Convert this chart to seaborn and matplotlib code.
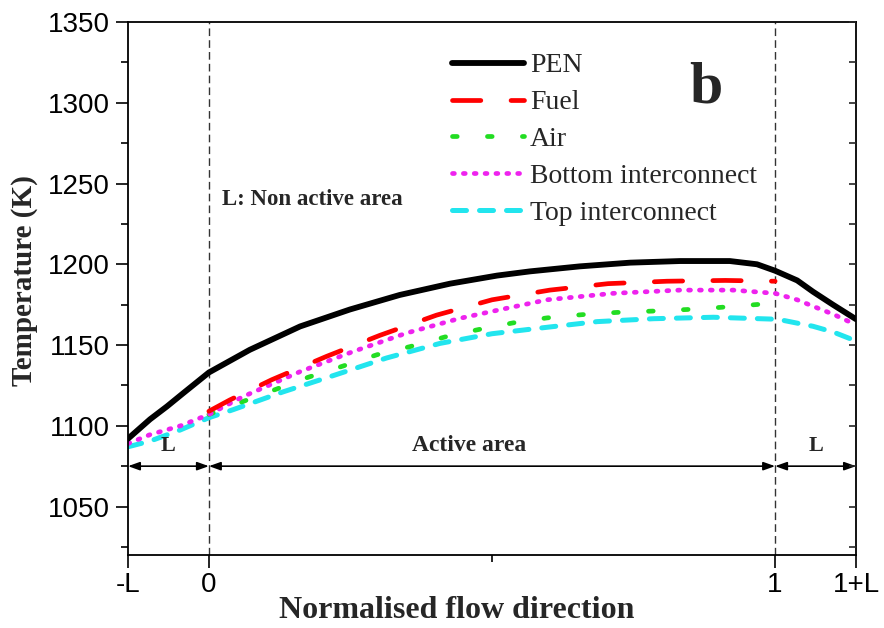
import matplotlib
matplotlib.use("Agg")
import matplotlib.pyplot as plt
from matplotlib.ticker import FixedLocator, MultipleLocator
import seaborn as sns
import pandas as pd

L = 1 / 7.0

pen_x = [-L, -0.104, -0.074, -0.046, 0.0, 0.072, 0.161, 0.249, 0.337, 0.426, 0.509,
         0.567, 0.655, 0.744, 0.832, 0.92, 0.968, 1.0, 1.039, 1.067, 1.102, 1 + L]
pen_y = [1092, 1104, 1112, 1120, 1133, 1147, 1161.5, 1172, 1181, 1188, 1193,
         1195.6, 1198.7, 1201, 1202, 1202, 1200, 1196, 1190, 1183, 1175, 1166]

fuel_x = [0.0, 0.037, 0.111, 0.208, 0.302, 0.402, 0.5, 0.602, 0.705, 0.809, 0.912, 1.0]
fuel_y = [1109, 1116, 1128.5, 1143, 1156, 1168.5, 1178, 1184, 1188, 1189.5, 1190, 1189.5]

air_x = [0.0, 0.06, 0.12, 0.175, 0.237, 0.297, 0.355, 0.417, 0.475, 0.537, 0.597,
         0.659, 0.721, 0.783, 0.845, 0.903, 0.965, 1.0]
air_y = [1107, 1115, 1122.8, 1130, 1137, 1144, 1149, 1155, 1159.5, 1163.7, 1166.8,
         1168.8, 1170.2, 1171, 1172, 1173.3, 1175, 1176]

bot_x = [-L, -0.104, -0.05, 0.0, 0.06, 0.161, 0.255, 0.35, 0.443, 0.509, 0.597,
         0.714, 0.832, 0.926, 1.0, 1.039, 1.067, 1.103, 1 + L]
bot_y = [1089, 1094.5, 1100, 1107, 1118, 1133.5, 1146, 1157.5, 1166.5, 1171.5, 1178,
         1182, 1184, 1184, 1182, 1178, 1174, 1169, 1162.5]

top_x = [-L, -0.104, -0.05, 0.0, 0.043, 0.131, 0.219, 0.314, 0.408, 0.5, 0.585,
         0.686, 0.785, 0.891, 1.0, 1.014, 1.067, 1.103, 1 + L]
top_y = [1087, 1090.5, 1097.5, 1105, 1110, 1121, 1131, 1142, 1151, 1157, 1160.5,
         1164.5, 1166.3, 1167.2, 1166, 1165.3, 1161.6, 1158, 1152.5]

series_names = ["PEN", "Fuel", "Air", "Bottom interconnect", "Top interconnect"]
tick_pos = [-L, 0.0, 1.0, 1 + L]
tick_labels = ["-L", "0", "1", "1+L"]
y_ticks = [1050, 1100, 1150, 1200, 1250, 1300, 1350]

sns.set_style("ticks")
plt.rcParams["font.family"] = ["Liberation Sans", "DejaVu Sans"]

fig = plt.figure(figsize=(8.84, 6.28), dpi=100)
ax = fig.add_axes([128 / 884, 73 / 628, 728 / 884, 533 / 628])

data = {
    "PEN": (pen_x, pen_y),
    "Fuel": (fuel_x, fuel_y),
    "Air": (air_x, air_y),
    "Bottom interconnect": (bot_x, bot_y),
    "Top interconnect": (top_x, top_y),
}
styles = {
    "PEN": dict(color="black", lw=4.2, linestyle="-"),
    "Fuel": dict(color="#ff0000", lw=3.4, linestyle=(0, (6.0, 6.4)), dash_capstyle="round"),
    "Air": dict(color="#22dd22", lw=3.4, linestyle=(0, (1.0, 6.4)), dash_capstyle="round"),
    "Bottom interconnect": dict(color="#ee22ee", lw=3.4, linestyle=(0, (0.4, 1.9)), dash_capstyle="round"),
    "Top interconnect": dict(color="#22e5ee", lw=3.6, linestyle=(0, (2.8, 2.6)), dash_capstyle="round"),
}
draw_order = ["Top interconnect", "Air", "Bottom interconnect", "Fuel", "PEN"]
for name in draw_order:
    xs, ys = data[name]
    df = pd.DataFrame({"x": xs, "y": ys})
    sns.lineplot(data=df, x="x", y="y", ax=ax, sort=False, estimator=None,
                 label=name, **styles[name])

# vertical dashed boundaries
for xv in [0.0, 1.0]:
    ax.axvline(xv, color="#333333", lw=1.0, linestyle=(0, (5.5, 3.0)), zorder=1)

# arrows
ya = 1075
for (a, b) in [(-L, 0.0), (0.0, 1.0), (1.0, 1 + L)]:
    ax.annotate("", xy=(b, ya), xytext=(a, ya),
                arrowprops=dict(arrowstyle="<|-|>,head_length=0.7,head_width=0.25",
                                color="black", lw=1.2, shrinkA=0, shrinkB=0))

lab_font = dict(fontweight="bold", family="Liberation Serif")
ax.text(-L / 2, 1081, "L", fontsize=16, ha="center", va="bottom", **lab_font)
ax.text(1 + L / 2, 1081, "L", fontsize=16, ha="center", va="bottom", **lab_font)
ax.text(0.46, 1081, "Active area", fontsize=17, ha="center", va="bottom", **lab_font)
ax.text(0.024, 1240, "L: Non active area", fontsize=16.5, ha="left", va="center", **lab_font)
ax.text(0.877, 1309, "b", fontsize=43, ha="center", va="center", **lab_font)

ax.set_xlim(-L, 1 + L)
ax.set_ylim(1020, 1350)
ax.xaxis.set_major_locator(FixedLocator(tick_pos))
ax.set_xticklabels(tick_labels)
ax.xaxis.set_minor_locator(FixedLocator([0.5]))
ax.yaxis.set_major_locator(FixedLocator(y_ticks))
ax.yaxis.set_minor_locator(MultipleLocator(25))

ax.tick_params(axis="both", which="major", labelsize=20, width=1.2, length=9, direction="out",
               color="black", labelcolor="black")
ax.tick_params(axis="both", which="minor", width=1.2, length=5, direction="out", color="black")
ax.tick_params(axis="x", pad=3)
ax.tick_params(axis="y", pad=4)

# right side inward ticks
axr = ax.twinx()
axr.set_ylim(ax.get_ylim())
axr.yaxis.set_major_locator(FixedLocator(y_ticks))
axr.yaxis.set_minor_locator(MultipleLocator(25))
axr.tick_params(axis="y", which="both", direction="in", length=5, width=1.2, labelright=False)
for sp in axr.spines.values():
    sp.set_visible(False)

for sp in ax.spines.values():
    sp.set_visible(True)
    sp.set_linewidth(1.3)
    sp.set_color("black")

ax.set_xlabel("Normalised flow direction", fontsize=23, **lab_font)
ax.xaxis.set_label_coords(0.452, -0.077)
ax.set_ylabel("Temperature (K)", fontsize=21, **lab_font)
ax.yaxis.set_label_coords(-0.123, 0.515)

handles, labels = ax.get_legend_handles_labels()
order = [labels.index(n) for n in series_names]
leg = ax.legend([handles[i] for i in order], [labels[i] for i in order],
                loc="upper left", bbox_to_anchor=(452 / 884, 1 - 53 / 628),
                bbox_transform=fig.transFigure, frameon=False, borderpad=0,
                borderaxespad=0, handlelength=2.6, handletextpad=0.2,
                labelspacing=0.41, prop={"family": "Liberation Serif", "size": 20})

fig.savefig("out.png", dpi=100, facecolor="white")
